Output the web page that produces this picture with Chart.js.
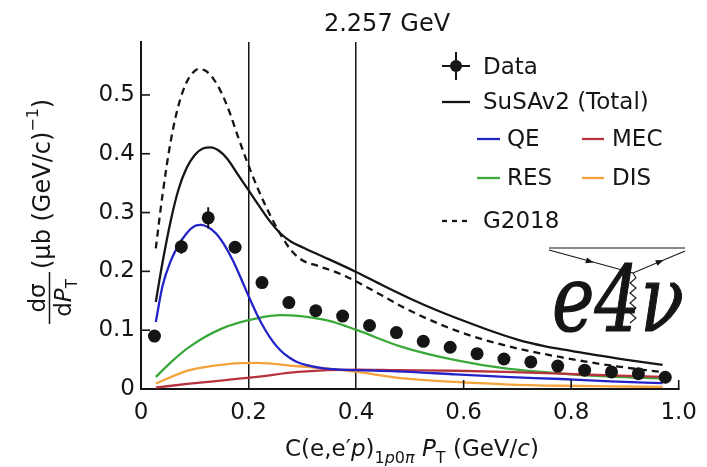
<!DOCTYPE html>
<html>
<head>
<meta charset="utf-8">
<script src="https://cdn.jsdelivr.net/npm/chart.js@4.4.1/dist/chart.umd.min.js"></script>
<style>
html,body{margin:0;padding:0;background:#fff;}
#wrap{width:707px;height:467px;position:relative;}
</style>
</head>
<body>
<div id="wrap"><canvas id="c" width="707" height="467"></canvas></div>
<script>
// ---- data ----
const dataX = [0.025,0.075,0.125,0.175,0.225,0.275,0.325,0.375,0.425,0.475,0.525,0.575,0.625,0.675,0.725,0.775,0.825,0.875,0.925,0.975];
const dataY = [0.090,0.242,0.291,0.241,0.181,0.147,0.133,0.124,0.108,0.096,0.081,0.071,0.060,0.051,0.046,0.039,0.032,0.029,0.026,0.020];
const dataErr = [0.006,0.012,0.018,0.010,0.008,0.006,0.005,0.005,0.004,0.004,0.004,0.003,0.003,0.003,0.003,0.003,0.002,0.002,0.002,0.002];

const totalX = [0.0275,0.04,0.055,0.07,0.085,0.1,0.115,0.13,0.145,0.16,0.18,0.2,0.22,0.24,0.26,0.28,0.3,0.34,0.4,0.45,0.5,0.55,0.6,0.65,0.7,0.75,0.8,0.85,0.9,0.97];
const totalY = [0.148,0.215,0.285,0.34,0.376,0.398,0.409,0.411,0.405,0.392,0.365,0.338,0.311,0.285,0.264,0.25,0.241,0.2245,0.199,0.176,0.154,0.134,0.116,0.099,0.084,0.073,0.065,0.057,0.050,0.041];

const g2018X = [0.0275,0.04,0.055,0.07,0.085,0.1,0.108,0.12,0.135,0.15,0.165,0.18,0.2,0.22,0.24,0.26,0.28,0.3,0.33,0.37,0.408,0.45,0.494,0.585,0.677,0.781,0.873,0.97];
const g2018Y = [0.239,0.33,0.42,0.483,0.522,0.541,0.544,0.541,0.527,0.503,0.47,0.43,0.38,0.335,0.296,0.262,0.235,0.219,0.209,0.196,0.179,0.158,0.136,0.0997,0.074,0.054,0.040,0.0286];

const qeX = [0.0275,0.04,0.055,0.07,0.085,0.1,0.112,0.125,0.14,0.155,0.17,0.185,0.2,0.215,0.23,0.245,0.26,0.275,0.29,0.31,0.34,0.37,0.4,0.475,0.585,0.677,0.781,0.873,0.97];
const qeY = [0.114,0.175,0.217,0.245,0.265,0.277,0.279,0.275,0.264,0.245,0.22,0.19,0.158,0.128,0.102,0.081,0.065,0.054,0.046,0.040,0.035,0.033,0.032,0.030,0.025,0.0205,0.017,0.013,0.010];

const mecX = [0.0275,0.09,0.215,0.292,0.402,0.475,0.585,0.677,0.781,0.873,0.97];
const mecY = [0.0025,0.009,0.0205,0.029,0.033,0.032,0.031,0.029,0.026,0.023,0.0205];

const resX = [0.0275,0.055,0.09,0.151,0.215,0.261,0.292,0.35,0.402,0.485,0.585,0.677,0.781,0.873,0.97];
const resY = [0.0205,0.045,0.0716,0.103,0.12,0.1255,0.1245,0.116,0.100,0.0716,0.0489,0.0349,0.0263,0.021,0.0178];

const disX = [0.0275,0.09,0.157,0.215,0.292,0.402,0.475,0.585,0.677,0.781,0.873,0.97];
const disY = [0.0093,0.032,0.042,0.0443,0.0387,0.029,0.0195,0.012,0.008,0.0055,0.0045,0.0035];

const xTicks = [0,0.2,0.4,0.6,0.8,1.0];
const yTicks = [0,0.1,0.2,0.3,0.4,0.5];
const titleText = "2.257 GeV";
// ---------------------------------------

const pts = (xs, ys) => xs.map((x, i) => ({x: x, y: ys[i]}));
const FONT = '"DejaVu Sans", sans-serif';
const INK = '#151515';
const COL = {qe:'#2323c8', mec:'#b8323e', res:'#3aa83a', dis:'#f4a23a'};

function curve(label, xs, ys, color, dash) {
  return {label, data: pts(xs, ys), showLine: true, borderColor: color, backgroundColor: color,
    borderWidth: 2.3, pointRadius: 0, borderDash: dash || [], cubicInterpolationMode: 'monotone', fill: false};
}

const decor = {
  id: 'decor',
  afterDatasetsDraw(chart) {
    const ctx = chart.ctx, xs = chart.scales.x, ys = chart.scales.y;
    ctx.save();
    ctx.strokeStyle = INK; ctx.lineWidth = 2;
    dataX.forEach((x, i) => {
      const px = xs.getPixelForValue(x);
      ctx.beginPath();
      ctx.moveTo(px, ys.getPixelForValue(dataY[i] - dataErr[i]));
      ctx.lineTo(px, ys.getPixelForValue(dataY[i] + dataErr[i]));
      ctx.stroke();
    });
    ctx.restore();
  },
  afterDraw(chart) {
    const ctx = chart.ctx, xs = chart.scales.x, ys = chart.scales.y, ca = chart.chartArea;
    ctx.save();
    ctx.strokeStyle = INK; ctx.lineWidth = 1.6;
    yTicks.forEach(v => { if (v > 0) { const py = ys.getPixelForValue(v); ctx.beginPath(); ctx.moveTo(ca.left, py); ctx.lineTo(ca.left + 9, py); ctx.stroke(); } });
    xTicks.forEach(v => { if (v > 0.5) { const px = xs.getPixelForValue(v); ctx.beginPath(); ctx.moveTo(px, ca.bottom); ctx.lineTo(px, ca.bottom - 9); ctx.stroke(); } });

    ctx.fillStyle = INK;
    ctx.font = '24px ' + FONT; ctx.textAlign = 'center'; ctx.textBaseline = 'alphabetic';
    ctx.fillText(titleText, 387, 31);

    const segs = [
      ['C(e,e\u2032', 'n', 0], ['p', 'i', 0], [')', 'n', 0],
      ['1', 'n', 1], ['p', 'i', 1], ['0', 'n', 1], ['\u03c0', 'i', 1],
      [' ', 'n', 0], ['P', 'i', 0], ['T', 'n', 1], [' (GeV/', 'n', 0], ['c', 'i', 0], [')', 'n', 0]
    ];
    const fontOf = (s) => (s[1] === 'i' ? 'italic ' : '') + (s[2] ? '16px ' : '23px ') + FONT;
    let w = 0; segs.forEach(s => { ctx.font = fontOf(s); w += ctx.measureText(s[0]).width; });
    let cx = 412 - w / 2;
    ctx.textAlign = 'left';
    segs.forEach(s => { ctx.font = fontOf(s); ctx.fillText(s[0], cx, s[2] ? 463 : 456); cx += ctx.measureText(s[0]).width; });

    ctx.save();
    ctx.rotate(-Math.PI / 2);
    ctx.textAlign = 'center';
    ctx.font = '23px ' + FONT;
    ctx.fillText('d\u03c3', -298, 45);
    ctx.lineWidth = 1.5;
    ctx.beginPath(); ctx.moveTo(-324, 49.5); ctx.lineTo(-272, 49.5); ctx.stroke();
    const dW = ctx.measureText('d').width;
    ctx.font = 'italic 23px ' + FONT; const pW = ctx.measureText('P').width;
    ctx.font = '15px ' + FONT; const tW = ctx.measureText('T').width;
    let u = -298 - (dW + pW + tW) / 2;
    ctx.textAlign = 'left';
    ctx.font = '23px ' + FONT; ctx.fillText('d', u, 71); u += dW;
    ctx.font = 'italic 23px ' + FONT; ctx.fillText('P', u, 71); u += pW;
    ctx.font = '15px ' + FONT; ctx.fillText('T', u, 77);
    let u2 = -269;
    ctx.font = '24px ' + FONT; ctx.fillText('(\u03bcb (GeV/c)', u2, 50); u2 += ctx.measureText('(\u03bcb (GeV/c)').width;
    ctx.font = '16px ' + FONT; ctx.fillText('\u22121', u2, 38); u2 += ctx.measureText('\u22121').width;
    ctx.font = '24px ' + FONT; ctx.fillText(')', u2, 50);
    ctx.restore();

    ctx.textAlign = 'left'; ctx.textBaseline = 'middle';
    ctx.font = '23px ' + FONT;
    ctx.lineWidth = 2.3;
    const line = (x1, x2, y, c, dash) => { ctx.save(); ctx.strokeStyle = c; ctx.setLineDash(dash || []); ctx.beginPath(); ctx.moveTo(x1, y); ctx.lineTo(x2, y); ctx.stroke(); ctx.restore(); };
    ctx.save(); ctx.strokeStyle = INK; ctx.lineWidth = 2;
    ctx.beginPath(); ctx.moveTo(442, 66); ctx.lineTo(470, 66); ctx.moveTo(456, 52); ctx.lineTo(456, 80); ctx.stroke();
    ctx.beginPath(); ctx.arc(456, 66, 6, 0, Math.PI * 2); ctx.fill(); ctx.restore();
    ctx.fillText('Data', 483, 68);
    line(442, 470, 102, INK); ctx.fillText('SuSAv2 (Total)', 483, 103);
    line(477, 500, 139, COL.qe); ctx.fillText('QE', 507, 140);
    line(582, 604, 139, COL.mec); ctx.fillText('MEC', 612, 140);
    line(477, 500, 178, COL.res); ctx.fillText('RES', 507, 179);
    line(582, 604, 178, COL.dis); ctx.fillText('DIS', 612, 179);
    line(442, 470, 221, INK, [5, 5]); ctx.fillText('G2018', 483, 222);

    ctx.strokeStyle = INK; ctx.lineWidth = 1.1;
    ctx.beginPath();
    ctx.moveTo(549, 248); ctx.lineTo(685, 248);
    ctx.moveTo(549, 250); ctx.lineTo(633, 273); ctx.lineTo(685, 251);
    ctx.stroke();
    const arrow = (x, y, ang) => { ctx.save(); ctx.translate(x, y); ctx.rotate(ang); ctx.beginPath(); ctx.moveTo(4, 0); ctx.lineTo(-4, -3); ctx.lineTo(-4, 3); ctx.closePath(); ctx.fill(); ctx.restore(); };
    arrow(590, 261.5, Math.atan2(23, 84));
    arrow(660, 261.5, Math.atan2(-22, 52));
    ctx.beginPath(); ctx.moveTo(633, 273);
    for (let k = 1; k <= 10; k++) ctx.lineTo(633 + (k % 2 ? 3 : -3), 273 + k * 5);
    ctx.stroke();
    ctx.save();
    ctx.font = 'italic 92px "DejaVu Serif", serif';
    ctx.textBaseline = 'alphabetic';
    const lw = ctx.measureText('e4\u03bd').width;
    ctx.translate(552, 331); ctx.scale(132 / lw, 1);
    ctx.lineWidth = 1.2; ctx.strokeStyle = INK;
    ctx.fillText('e4\u03bd', 0, 0);
    ctx.strokeText('e4\u03bd', 0, 0);
    ctx.restore();
    ctx.restore();
  }
};

new Chart(document.getElementById('c'), {
  type: 'scatter',
  data: {
    datasets: [
      {label: 'Data', data: pts(dataX, dataY), pointRadius: 6.5, pointHoverRadius: 6.5, backgroundColor: INK, borderColor: INK, borderWidth: 0, showLine: false},
      curve('SuSAv2 (Total)', totalX, totalY, INK),
      curve('G2018', g2018X, g2018Y, INK, [7, 5]),
      curve('QE', qeX, qeY, COL.qe),
      curve('MEC', mecX, mecY, COL.mec),
      curve('RES', resX, resY, COL.res),
      curve('DIS', disX, disY, COL.dis)
    ]
  },
  options: {
    responsive: false, animation: false, devicePixelRatio: 1,
    layout: {padding: {top: 42, right: 21, left: 0, bottom: 0}},
    plugins: {legend: {display: false}, tooltip: {enabled: false}, title: {display: false}},
    scales: {
      x: {
        type: 'linear', min: 0, max: 1,
        afterFit: s => { s.height = 78; },
        afterBuildTicks: s => { s.ticks = xTicks.map(v => ({value: v})); },
        ticks: {color: INK, font: {family: FONT, size: 23}, padding: 10, maxRotation: 0, autoSkip: false,
          callback: v => (v === 0 ? '0' : v.toFixed(1))},
        grid: {drawTicks: false, drawOnChartArea: true, lineWidth: 1.5,
          color: c => (c.tick && (Math.abs(c.tick.value - 0.2) < 1e-6 || Math.abs(c.tick.value - 0.4) < 1e-6)) ? INK : 'rgba(0,0,0,0)'},
        border: {display: true, color: INK, width: 2}
      },
      y: {
        type: 'linear', min: 0, max: 0.59,
        afterFit: s => { s.width = 141; },
        afterBuildTicks: s => { s.ticks = yTicks.map(v => ({value: v})); },
        ticks: {color: INK, font: {family: FONT, size: 23}, padding: 6,
          callback: v => (v === 0 ? '0' : v.toFixed(1))},
        grid: {display: false, drawTicks: false},
        border: {display: true, color: INK, width: 2}
      }
    }
  },
  plugins: [decor]
});
</script>
</body>
</html>
